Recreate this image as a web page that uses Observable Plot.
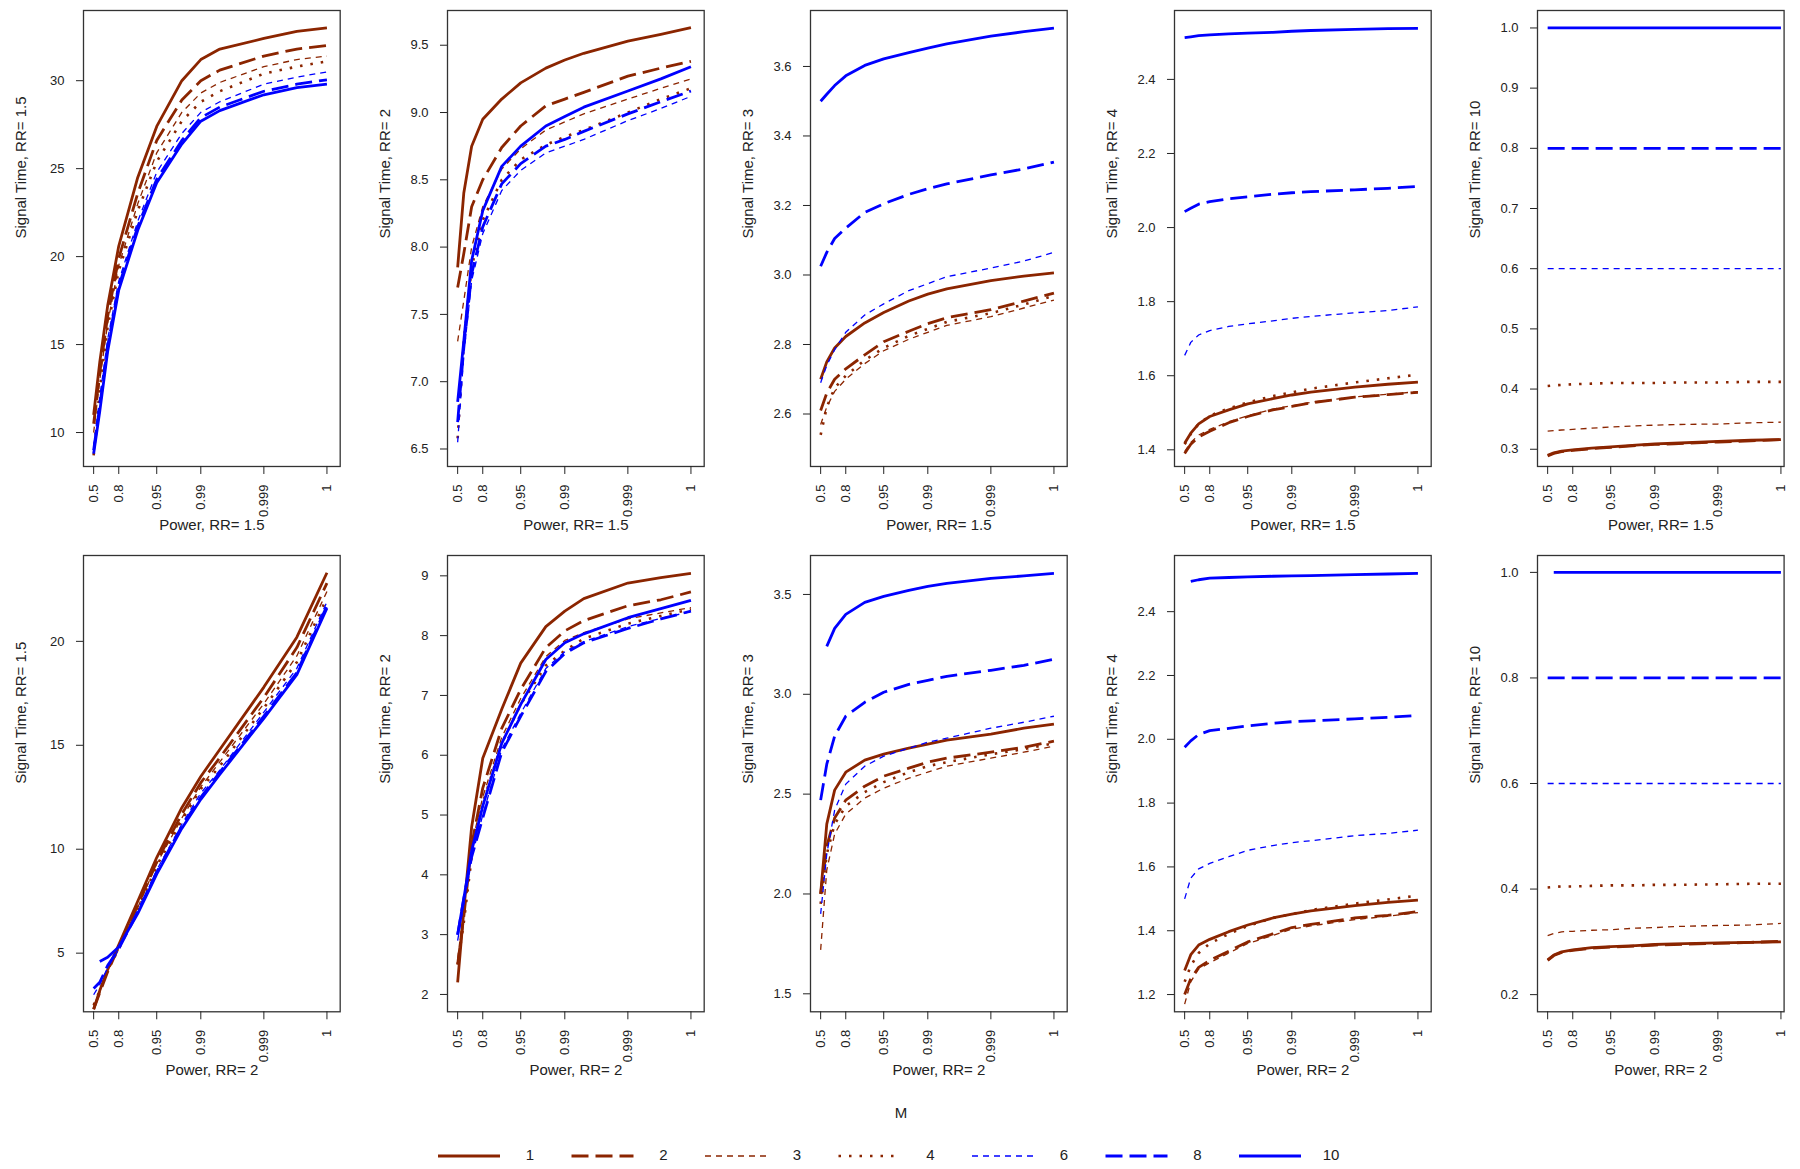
<!DOCTYPE html>
<html><head><meta charset="utf-8">
<script src="https://cdn.jsdelivr.net/npm/d3@7"></script>
<script src="https://cdn.jsdelivr.net/npm/@observablehq/plot@0.6"></script>
<style>
body{margin:0;background:#fff;font-family:"Liberation Sans",Arial,sans-serif;}
#root{position:relative;width:1800px;height:1169px;overflow:hidden;background:#fff;}
#root .pnl{position:absolute;}
</style></head>
<body><div id="root"></div>
<script>
// ---------- DATA ----------
const powerLevels = [0.5, 0.6, 0.7, 0.8, 0.9, 0.95, 0.98, 0.99, 0.995, 0.999, 0.9997, 0.9999];
const mValues = [1, 2, 3, 4, 6, 8, 10];
const signalRR = ["1.5", "2", "3", "4", "10"];   // columns
const powerRR = ["1.5", "2"];                    // rows
const xTickPowers = [0.5, 0.8, 0.95, 0.99, 0.999, 0.9999];
const xTickLabels = ["0.5", "0.8", "0.95", "0.99", "0.999", "1"];

// y ticks per panel (row 1 then row 2)
const yTicksTop = [[10,15,20,25,30],[6.5,7,7.5,8,8.5,9,9.5],[2.6,2.8,3.0,3.2,3.4,3.6],[1.4,1.6,1.8,2.0,2.2,2.4],[0.3,0.4,0.5,0.6,0.7,0.8,0.9,1.0]];
const yTicksBottom = [[5,10,15,20],[2,3,4,5,6,7,8,9],[1.5,2.0,2.5,3.0,3.5],[1.2,1.4,1.6,1.8,2.0,2.2,2.4],[0.2,0.4,0.6,0.8,1.0]];
const yDomainsTop = [[8.07,33.99],[6.37,9.758],[2.449,3.761],[1.355,2.586],[0.2714,1.029]];
const yDomainsBottom = [[2.18,24.13],[1.71,9.34],[1.41,3.695],[1.146,2.576],[0.1675,1.032]];

// Signal time values, rows = M (1,2,3,4,6,8,10), cols = powerLevels
// Row 1: Power at RR = 1.5
const top_RR1_5 = [
  [11.0, 14.0, 17.2, 20.6, 24.5, 27.4, 30.0, 31.2, 31.8, 32.4, 32.8, 33.0],
  [10.5, 13.4, 16.6, 19.9, 23.6, 26.6, 28.9, 30.0, 30.6, 31.4, 31.8, 32.0],
  [10.0, 13.0, 16.2, 19.5, 23.0, 25.9, 28.2, 29.3, 29.9, 30.8, 31.2, 31.4],
  [8.7, 12.5, 16.0, 19.2, 22.6, 25.4, 27.7, 28.8, 29.4, 30.4, 30.8, 31.1],
  [9.2, 12.0, 15.3, 18.6, 22.0, 24.8, 27.0, 28.2, 28.8, 29.8, 30.2, 30.5],
  [9.0, 11.5, 14.9, 18.3, 21.7, 24.4, 26.6, 27.9, 28.5, 29.4, 29.8, 30.05],
  [8.8, 11.2, 14.6, 18.1, 21.5, 24.2, 26.4, 27.7, 28.3, 29.2, 29.6, 29.8]
];
const top_RR2 = [
  [7.85, 8.4, 8.75, 8.95, 9.1, 9.22, 9.33, 9.39, 9.44, 9.53, 9.58, 9.63],
  [7.7, 7.95, 8.3, 8.5, 8.74, 8.9, 9.05, 9.1, 9.15, 9.27, 9.33, 9.38],
  [7.3, 7.6, 8.0, 8.3, 8.58, 8.73, 8.87, 8.93, 8.99, 9.1, 9.18, 9.25],
  [6.58, 7.3, 7.85, 8.2, 8.5, 8.65, 8.76, 8.82, 8.87, 9.0, 9.1, 9.18],
  [6.55, 7.2, 7.75, 8.1, 8.42, 8.57, 8.7, 8.75, 8.8, 8.94, 9.03, 9.12],
  [6.7, 7.25, 7.8, 8.15, 8.47, 8.62, 8.75, 8.8, 8.86, 8.99, 9.08, 9.16],
  [6.85, 7.3, 7.9, 8.27, 8.6, 8.75, 8.9, 8.97, 9.04, 9.16, 9.25, 9.34]
];
const top_RR3 = [
  [2.70, 2.75, 2.79, 2.823, 2.862, 2.892, 2.925, 2.945, 2.96, 2.984, 2.997, 3.006],
  [2.61, 2.66, 2.70, 2.73, 2.77, 2.808, 2.838, 2.86, 2.877, 2.90, 2.925, 2.948],
  [2.57, 2.62, 2.665, 2.70, 2.745, 2.782, 2.815, 2.835, 2.855, 2.88, 2.905, 2.928],
  [2.54, 2.62, 2.675, 2.71, 2.755, 2.79, 2.825, 2.845, 2.865, 2.89, 2.915, 2.94],
  [2.69, 2.74, 2.785, 2.835, 2.885, 2.917, 2.955, 2.975, 2.995, 3.02, 3.04, 3.065],
  [3.025, 3.065, 3.105, 3.135, 3.18, 3.205, 3.232, 3.248, 3.262, 3.288, 3.305, 3.325],
  [3.50, 3.52, 3.545, 3.573, 3.603, 3.622, 3.64, 3.653, 3.665, 3.687, 3.70, 3.71]
];
const top_RR4 = [
  [1.418, 1.445, 1.47, 1.49, 1.508, 1.524, 1.538, 1.548, 1.556, 1.569, 1.577, 1.583],
  [1.39, 1.415, 1.435, 1.45, 1.473, 1.49, 1.508, 1.517, 1.527, 1.542, 1.549, 1.555],
  [1.395, 1.42, 1.44, 1.455, 1.476, 1.492, 1.51, 1.519, 1.528, 1.543, 1.55, 1.557],
  [1.415, 1.443, 1.47, 1.492, 1.512, 1.528, 1.545, 1.555, 1.565, 1.582, 1.593, 1.603],
  [1.655, 1.69, 1.71, 1.722, 1.733, 1.74, 1.748, 1.755, 1.76, 1.77, 1.776, 1.786],
  [2.043, 2.052, 2.063, 2.07, 2.078, 2.083, 2.09, 2.094, 2.097, 2.102, 2.106, 2.111],
  [2.513, 2.515, 2.518, 2.52, 2.523, 2.525, 2.527, 2.53, 2.532, 2.535, 2.537, 2.538]
];
const top_RR10 = [
  [0.290, 0.294, 0.297, 0.299, 0.302, 0.304, 0.307, 0.309, 0.310, 0.313, 0.315, 0.316],
  [0.289, 0.293, 0.296, 0.298, 0.301, 0.303, 0.306, 0.308, 0.309, 0.312, 0.314, 0.316],
  [0.330, 0.331, 0.332, 0.333, 0.335, 0.337, 0.339, 0.340, 0.341, 0.342, 0.344, 0.345],
  [0.405, 0.406, 0.407, 0.408, 0.409, 0.410, 0.410, 0.410, 0.411, 0.411, 0.412, 0.412],
  [0.6, 0.6, 0.6, 0.6, 0.6, 0.6, 0.6, 0.6, 0.6, 0.6, 0.6, 0.6],
  [0.8, 0.8, 0.8, 0.8, 0.8, 0.8, 0.8, 0.8, 0.8, 0.8, 0.8, 0.8],
  [1.0, 1.0, 1.0, 1.0, 1.0, 1.0, 1.0, 1.0, 1.0, 1.0, 1.0, 1.0]
];
// Row 2: Power at RR = 2
const bottom_RR1_5 = [
  [2.3, 3.2, 4.2, 5.4, 7.5, 9.6, 12.0, 13.5, 14.8, 17.8, 20.2, 23.3],
  [2.3, 3.1, 4.1, 5.3, 7.3, 9.4, 11.7, 13.2, 14.4, 17.3, 19.7, 22.8],
  [2.4, 3.1, 4.1, 5.3, 7.2, 9.3, 11.5, 13.0, 14.2, 17.0, 19.3, 22.4],
  [2.5, 3.2, 4.2, 5.2, 7.1, 9.2, 11.4, 12.9, 14.0, 16.8, 19.0, 22.1],
  [3.0, 3.5, 4.3, 5.2, 7.0, 9.0, 11.2, 12.7, 13.8, 16.6, 18.7, 21.9],
  [3.3, 3.6, 4.4, 5.2, 7.0, 8.9, 11.1, 12.5, 13.7, 16.4, 18.5, 21.7],
  [null, 4.6, 4.8, 5.3, 6.9, 8.8, 11.0, 12.4, 13.6, 16.3, 18.4, 21.6]
];
const bottom_RR2 = [
  [2.2, 3.4, 4.8, 5.95, 6.77, 7.54, 8.15, 8.41, 8.62, 8.88, 8.97, 9.04],
  [2.5, 3.3, 4.5, 5.45, 6.45, 7.1, 7.8, 8.08, 8.25, 8.5, 8.6, 8.73],
  [2.6, 3.4, 4.5, 5.3, 6.3, 6.95, 7.65, 7.92, 8.05, 8.28, 8.38, 8.47],
  [2.5, 3.2, 4.3, 5.2, 6.2, 6.85, 7.5, 7.75, 7.95, 8.2, 8.33, 8.44],
  [2.9, 3.5, 4.3, 5.0, 6.1, 6.7, 7.45, 7.73, 7.9, 8.15, 8.29, 8.40],
  [3.0, 3.6, 4.3, 4.95, 6.05, 6.65, 7.4, 7.7, 7.88, 8.12, 8.28, 8.41],
  [3.0, 3.6, 4.4, 5.15, 6.2, 6.85, 7.6, 7.88, 8.03, 8.3, 8.45, 8.59]
];
const bottom_RR3 = [
  [2.0, 2.35, 2.52, 2.61, 2.67, 2.7, 2.73, 2.75, 2.77, 2.80, 2.83, 2.85],
  [2.0, 2.24, 2.38, 2.47, 2.54, 2.59, 2.63, 2.66, 2.68, 2.71, 2.735, 2.765],
  [1.72, 2.12, 2.3, 2.4, 2.48, 2.53, 2.58, 2.61, 2.64, 2.68, 2.71, 2.74],
  [1.95, 2.2, 2.35, 2.44, 2.51, 2.56, 2.61, 2.64, 2.66, 2.70, 2.725, 2.755],
  [1.9, 2.2, 2.42, 2.55, 2.64, 2.69, 2.73, 2.76, 2.78, 2.83, 2.86, 2.89],
  [2.47, 2.65, 2.79, 2.89, 2.96, 3.01, 3.05, 3.07, 3.09, 3.12, 3.145, 3.175],
  [null, 3.24, 3.33, 3.40, 3.46, 3.49, 3.52, 3.54, 3.555, 3.58, 3.593, 3.605]
];
const bottom_RR4 = [
  [1.275, 1.325, 1.355, 1.373, 1.397, 1.418, 1.44, 1.452, 1.462, 1.479, 1.489, 1.496],
  [1.2, 1.25, 1.285, 1.307, 1.336, 1.365, 1.39, 1.41, 1.42, 1.44, 1.448, 1.46],
  [1.17, 1.24, 1.28, 1.3, 1.33, 1.36, 1.385, 1.405, 1.415, 1.435, 1.445, 1.457],
  [1.24, 1.29, 1.33, 1.36, 1.39, 1.415, 1.44, 1.452, 1.465, 1.485, 1.498, 1.51],
  [1.50, 1.565, 1.594, 1.611, 1.632, 1.652, 1.667, 1.676, 1.682, 1.698, 1.705, 1.715],
  [1.975, 1.995, 2.015, 2.027, 2.034, 2.042, 2.05, 2.055, 2.058, 2.064, 2.069, 2.075],
  [null, 2.495, 2.5, 2.505, 2.507, 2.509, 2.511, 2.512, 2.513, 2.516, 2.518, 2.52]
];
const bottom_RR10 = [
  [0.266, 0.275, 0.281, 0.285, 0.289, 0.291, 0.293, 0.295, 0.296, 0.298, 0.299, 0.300],
  [0.265, 0.274, 0.280, 0.284, 0.288, 0.290, 0.292, 0.294, 0.295, 0.297, 0.299, 0.301],
  [0.312, 0.316, 0.319, 0.320, 0.322, 0.323, 0.326, 0.327, 0.329, 0.331, 0.332, 0.335],
  [0.403, 0.404, 0.405, 0.405, 0.406, 0.407, 0.407, 0.408, 0.408, 0.409, 0.410, 0.410],
  [0.6, 0.6, 0.6, 0.6, 0.6, 0.6, 0.6, 0.6, 0.6, 0.6, 0.6, 0.6],
  [0.8, 0.8, 0.8, 0.8, 0.8, 0.8, 0.8, 0.8, 0.8, 0.8, 0.8, 0.8],
  [null, 1.0, 1.0, 1.0, 1.0, 1.0, 1.0, 1.0, 1.0, 1.0, 1.0, 1.0]
];

// ---------- STYLES / LAYOUT ----------
const BROWN = "#8B2500", BLUE = "#0000FF";
const seriesStyle = [
  {stroke: BROWN, width: 2.8, dash: null},
  {stroke: BROWN, width: 2.8, dash: "17,7"},
  {stroke: BROWN, width: 1.3, dash: "6,5"},
  {stroke: BROWN, width: 2.6, dash: "2.5,8"},
  {stroke: BLUE, width: 1.3, dash: "6,5"},
  {stroke: BLUE, width: 2.8, dash: "17,7"},
  {stroke: BLUE, width: 2.8, dash: null}
];
const toU = p => -Math.log10(1 - p);
const xTickU = xTickPowers.map(toU);
const PX_PER_U = 63.07;
const frameLefts = [83.3, 447.3, 810, 1174, 1537.3];
const xDomains = [[0.14, 4.21], [0.14, 4.21], [0.14, 4.21], [0.14, 4.21], [0.14, 4.05]];
const frameTops = [9.6, 554.7], frameBottoms = [465.6, 1011];
const rows = [
  {data: [top_RR1_5, top_RR2, top_RR3, top_RR4, top_RR10], ticks: yTicksTop, domains: yDomainsTop},
  {data: [bottom_RR1_5, bottom_RR2, bottom_RR3, bottom_RR4, bottom_RR10], ticks: yTicksBottom, domains: yDomainsBottom}
];
const ML = 83, MR = 12, MT = 9, MB = 82;
const root = document.getElementById("root");

rows.forEach((row, r) => {
  signalRR.forEach((srr, c) => {
    const vals = row.data[c];
    const ticks = row.ticks[c];
    const step = ticks[1] - ticks[0];
    const fmt = Number.isInteger(step) ? d3.format("d") : d3.format(".1f");
    const fw = (xDomains[c][1] - xDomains[c][0]) * PX_PER_U;
    const fh = frameBottoms[r] - frameTops[r];
    const lines = mValues.map((m, i) => {
      const pts = powerLevels.map((p, j) => ({u: toU(p), v: vals[i][j], m}))
        .filter(d => d.v != null);
      const s = seriesStyle[i];
      return Plot.line(pts, {x: "u", y: "v", stroke: s.stroke, strokeWidth: s.width,
        strokeDasharray: s.dash, strokeLinecap: "butt", strokeLinejoin: "round"});
    });
    const chart = Plot.plot({
      width: ML + fw + MR, height: MT + fh + MB,
      marginLeft: ML, marginRight: MR, marginTop: MT, marginBottom: MB,
      style: {fontFamily: '"Liberation Sans", Arial, sans-serif', color: "#222", background: "transparent", overflow: "visible"},
      x: {domain: xDomains[c]},
      y: {domain: row.domains[c]},
      marks: [
        ...lines,
        Plot.frame({stroke: "#333", strokeWidth: 1.3}),
        Plot.axisX({ticks: xTickU, tickFormat: d => xTickLabels[xTickU.indexOf(d)], tickRotate: -90,
          tickSize: 8, tickPadding: 10, fontSize: 13, label: null}),
        Plot.axisY({ticks: ticks, tickFormat: fmt, tickSize: 7, tickPadding: 12, fontSize: 13, label: null}),
        Plot.text([`Power, RR= ${powerRR[r]}`], {text: d => d, frameAnchor: "bottom", dy: 63.5, fontSize: 15, fill: "#222"}),
        Plot.text([`Signal Time, RR= ${srr}`], {text: d => d, frameAnchor: "left", dx: -62.5, rotate: -90, fontSize: 15, fill: "#222"})
      ]
    });
    const div = document.createElement("div");
    div.className = "pnl";
    div.style.left = (frameLefts[c] - ML) + "px";
    div.style.top = (frameTops[r] - MT) + "px";
    div.appendChild(chart);
    root.appendChild(div);
  });
});

// ---------- LEGEND ----------
const leg = d3.select(root).append("svg")
  .attr("width", 1800).attr("height", 90)
  .style("position", "absolute").style("left", "0px").style("top", "1085px")
  .style("font-family", '"Liberation Sans", Arial, sans-serif');
leg.append("text").attr("x", 901).attr("y", 29).attr("text-anchor", "middle")
  .attr("dominant-baseline", "middle").attr("font-size", 15).attr("fill", "#222").text("M");
const items = leg.selectAll("g").data(mValues).join("g")
  .attr("transform", (d, i) => `translate(${438 + i * 133.5},71)`);
items.append("line").attr("x1", 0).attr("x2", 62).attr("y1", 0).attr("y2", 0)
  .attr("stroke", (d, i) => seriesStyle[i].stroke)
  .attr("stroke-width", (d, i) => seriesStyle[i].width)
  .attr("stroke-dasharray", (d, i) => seriesStyle[i].dash);
items.append("text").attr("x", 92).attr("y", 0).attr("text-anchor", "middle")
  .attr("dominant-baseline", "middle").attr("font-size", 15).attr("fill", "#222").text(d => d);
</script>
</body></html>
